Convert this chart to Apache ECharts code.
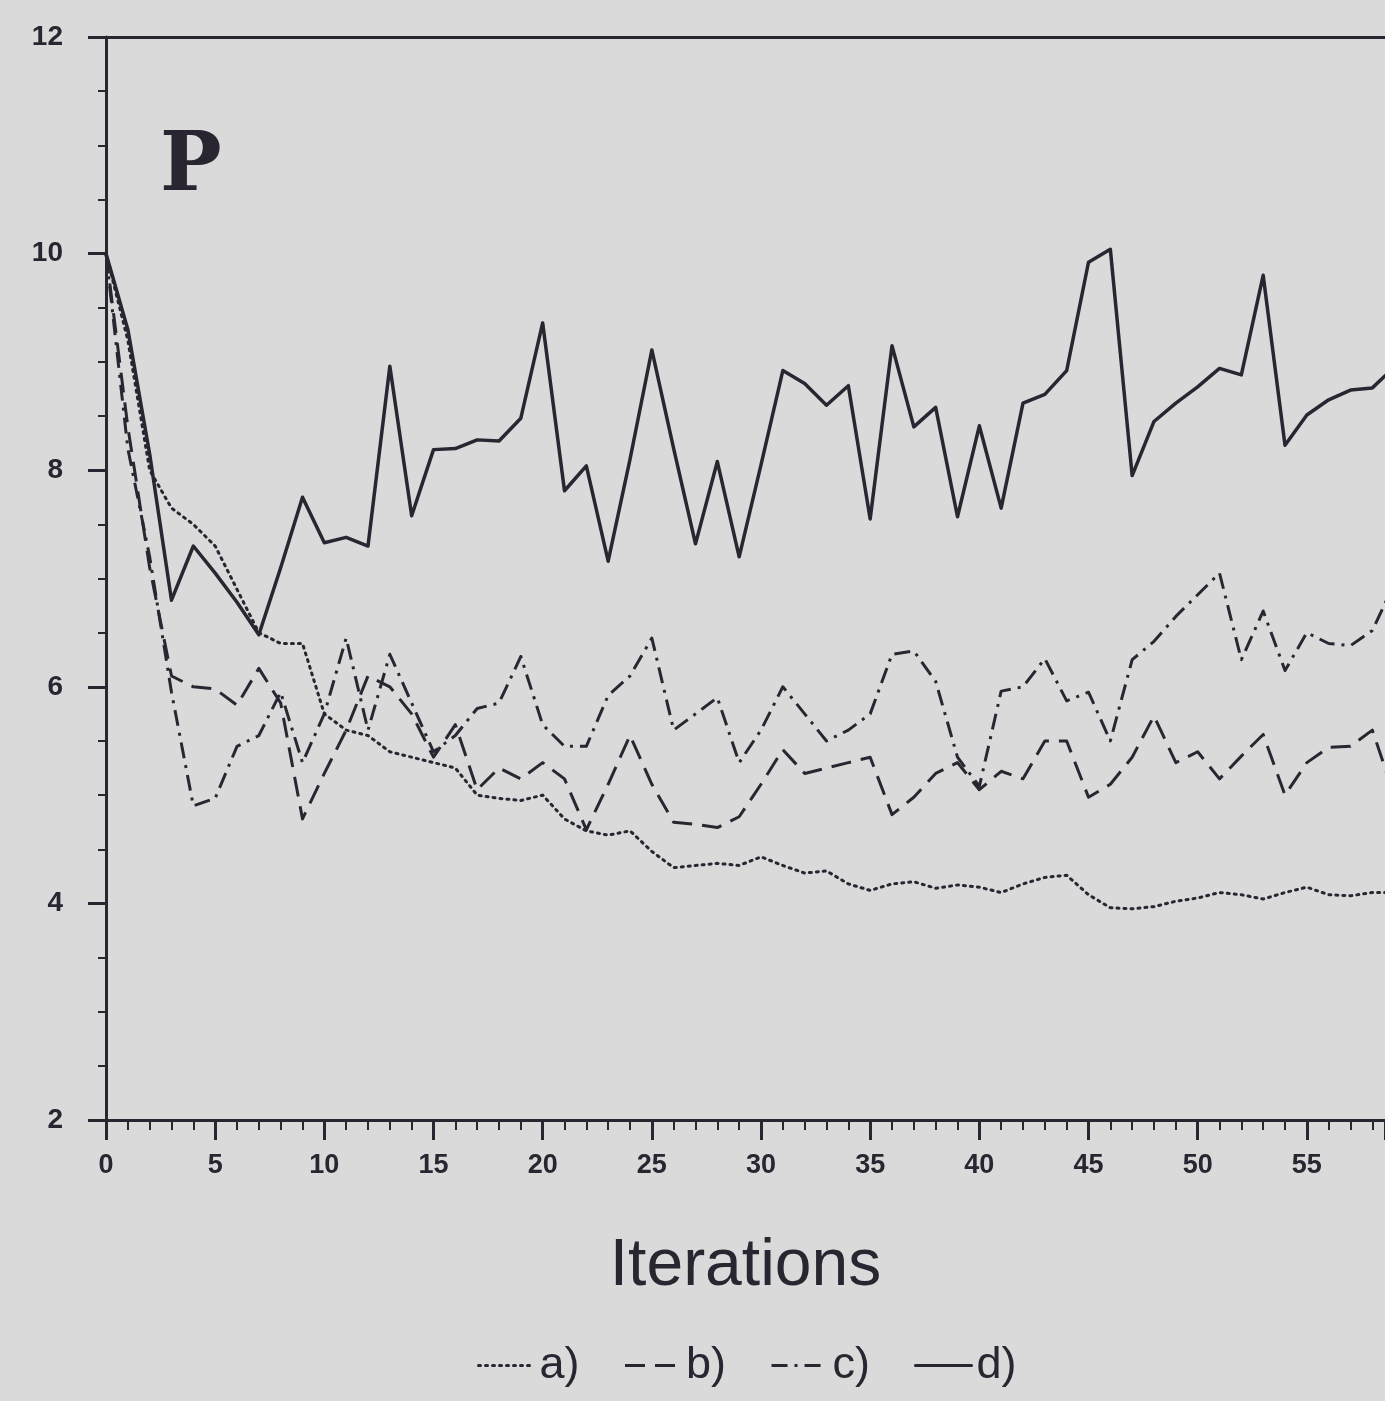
<!DOCTYPE html>
<html>
<head>
<meta charset="utf-8">
<script src="https://cdn.jsdelivr.net/npm/echarts@6/dist/echarts.min.js"></script>
<style>
html,body{margin:0;padding:0;background:#dadadb;}
#chart{width:1385px;height:1401px;}
</style>
</head>
<body>
<div id="chart"></div>
<script>
const iterations = [0,1,2,3,4,5,6,7,8,9,10,11,12,13,14,15,16,17,18,19,20,21,22,23,24,25,26,27,28,29,30,31,32,33,34,35,36,37,38,39,40,41,42,43,44,45,46,47,48,49,50,51,52,53,54,55,56,57,58,59];
const seriesA = [10,9.2,8.0,7.65,7.5,7.3,6.9,6.5,6.4,6.4,5.75,5.6,5.55,5.4,5.35,5.3,5.25,5.0,4.97,4.95,5.0,4.78,4.67,4.63,4.67,4.48,4.33,4.35,4.37,4.35,4.43,4.35,4.28,4.3,4.18,4.12,4.18,4.2,4.14,4.17,4.15,4.1,4.18,4.24,4.26,4.08,3.96,3.95,3.97,4.02,4.05,4.1,4.08,4.04,4.1,4.15,4.08,4.07,4.1,4.1];
const seriesB = [10,8.4,7.1,6.1,6.0,5.98,5.83,6.17,5.85,4.78,5.2,5.6,6.1,6.0,5.75,5.35,5.65,5.05,5.25,5.15,5.3,5.15,4.68,5.1,5.55,5.1,4.75,4.73,4.7,4.8,5.1,5.42,5.2,5.25,5.3,5.35,4.82,4.98,5.2,5.3,5.05,5.22,5.15,5.5,5.5,4.98,5.1,5.35,5.73,5.3,5.4,5.15,5.36,5.56,5.0,5.3,5.44,5.45,5.6,5.0];
const seriesC = [10,8.2,7.2,5.95,4.9,4.97,5.45,5.55,5.95,5.3,5.75,6.45,5.6,6.3,5.85,5.4,5.55,5.8,5.85,6.28,5.65,5.45,5.45,5.92,6.1,6.45,5.6,5.75,5.9,5.3,5.6,6.0,5.75,5.5,5.6,5.75,6.3,6.33,6.05,5.35,5.08,5.96,6.0,6.26,5.87,5.95,5.5,6.25,6.42,6.65,6.85,7.05,6.25,6.7,6.15,6.5,6.4,6.38,6.52,6.95];
const seriesD = [10,9.3,8.15,6.8,7.3,7.05,6.78,6.48,7.1,7.75,7.33,7.38,7.3,8.96,7.58,8.19,8.2,8.28,8.27,8.48,9.36,7.81,8.04,7.16,8.1,9.11,8.2,7.32,8.08,7.2,8.05,8.92,8.8,8.6,8.78,7.55,9.15,8.4,8.58,7.57,8.41,7.65,8.62,8.7,8.92,9.92,10.04,7.95,8.45,8.62,8.77,8.94,8.88,9.8,8.23,8.51,8.65,8.74,8.76,8.95];
const seriesNames = ['a)','b)','c)','d)'];
const xTicks = [0,5,10,15,20,25,30,35,40,45,50,55];
const yTicks = [2,4,6,8,10,12];
const panelLabel = 'P';
const xTitle = 'Iterations';

const ink = '#2a2631';
const pair = arr => iterations.map((x, i) => [x, arr[i]]);

const chart = echarts.init(document.getElementById('chart'), null, {renderer: 'canvas'});
const dashStyles = [
  {type: [2, 5], width: 3, cap: 'round'},
  {type: [20, 10], width: 3, cap: 'butt'},
  {type: [16, 7, 3, 7], width: 3, cap: 'butt'},
  {type: 'solid', width: 3.5, cap: 'round'}
];
const allData = [seriesA, seriesB, seriesC, seriesD];

chart.setOption({
  backgroundColor: '#dadadb',
  animation: false,
  grid: {left: 106, right: 0, top: 37, bottom: 281, containLabel: false},
  legend: {
    bottom: 8,
    left: 472,
    itemWidth: 56,
    itemHeight: 14,
    itemGap: 44,
    itemStyle: {opacity: 0},
    lineStyle: {width: 3},
    textStyle: {fontFamily: 'Liberation Sans', fontSize: 45, color: ink, fontWeight: 'normal'},
    data: seriesNames
  },
  xAxis: [{
    type: 'value',
    min: 0,
    max: 58.58,
    interval: 5,
    name: xTitle,
    nameLocation: 'middle',
    nameGap: 114,
    nameTextStyle: {fontFamily: 'Liberation Sans', fontSize: 66, color: ink},
    axisLine: {show: true, onZero: false, lineStyle: {color: ink, width: 3}},
    axisTick: {show: true, inside: false, length: 20, lineStyle: {color: ink, width: 3}},
    minorTick: {show: true, splitNumber: 5, length: 10, lineStyle: {color: ink, width: 2}},
    axisLabel: {
      showMaxLabel: false,
      margin: 32,
      fontFamily: 'Liberation Sans', fontWeight: 'bold', fontSize: 27, color: ink,
      formatter: v => xTicks.includes(v) ? String(v) : ''
    },
    splitLine: {show: false},
    minorSplitLine: {show: false}
  }, {
    type: 'value',
    position: 'top',
    min: 0,
    max: 58.58,
    axisLine: {show: true, lineStyle: {color: ink, width: 3}},
    axisTick: {show: false},
    axisLabel: {show: false},
    splitLine: {show: false}
  }],
  yAxis: {
    type: 'value',
    min: 2,
    max: 12,
    interval: 2,
    axisLine: {show: true, onZero: false, lineStyle: {color: ink, width: 3}},
    axisTick: {show: true, inside: false, length: 18, lineStyle: {color: ink, width: 3}},
    minorTick: {show: true, splitNumber: 4, length: 8, lineStyle: {color: ink, width: 2}},
    axisLabel: {
      margin: 43,
      fontFamily: 'Liberation Sans', fontWeight: 'bold', fontSize: 28, color: ink,
      formatter: v => yTicks.includes(v) ? String(v) : ''
    },
    splitLine: {show: false},
    minorSplitLine: {show: false}
  },
  graphic: [{
    type: 'text',
    left: 160,
    top: 128,
    style: {text: panelLabel, fontFamily: 'DejaVu Serif', fontWeight: 'bold', fontSize: 82, fill: ink}
  }],
  series: seriesNames.map((n, k) => ({
    name: n,
    type: 'line',
    xAxisIndex: 0,
    data: pair(allData[k]),
    showSymbol: false,
    symbol: 'none',
    clip: true,
    z: 5 - k,
    lineStyle: {color: ink, width: dashStyles[k].width, type: dashStyles[k].type, cap: dashStyles[k].cap, join: 'round'},
    itemStyle: {color: ink}
  }))
});
</script>
</body>
</html>
